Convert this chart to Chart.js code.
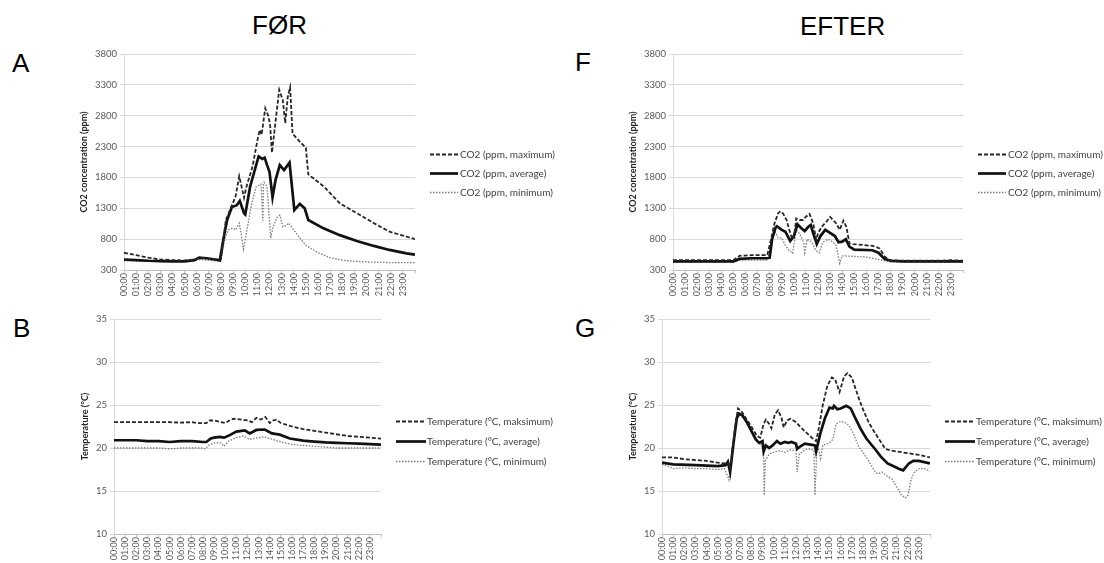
<!DOCTYPE html>
<html>
<head>
<meta charset="utf-8">
<script src="https://cdn.jsdelivr.net/npm/chart.js@4.4.1/dist/chart.umd.min.js"></script>
<style>
  html, body { margin:0; padding:0; background:#fff; }
  body { width:1104px; height:563px; position:relative; overflow:hidden; }
  canvas { position:absolute; }
  .big { position:absolute; font-family:'Liberation Sans', Arial, sans-serif; font-size:26px; line-height:26px; color:#000; white-space:nowrap; }
</style>
</head>
<body>
<div class="big" style="left:200px;width:159px;text-align:center;top:12px;">FØR</div>
<div class="big" style="left:800px;top:13px;">EFTER</div>
<div class="big" style="left:12px;top:50px;">A</div>
<div class="big" style="left:575px;top:49px;">F</div>
<div class="big" style="left:13px;top:315px;">B</div>
<div class="big" style="left:575px;top:315px;">G</div>

<canvas id="cA" width="565" height="330" style="left:0px;top:0px;"></canvas>
<canvas id="cF" width="554" height="330" style="left:550px;top:0px;"></canvas>
<canvas id="cB" width="560" height="273" style="left:0px;top:290px;"></canvas>
<canvas id="cG" width="554" height="273" style="left:550px;top:290px;"></canvas>

<script>
// ---------- tick labels ----------
const hourLabels = ['00:00','01:00','02:00','03:00','04:00','05:00','06:00','07:00','08:00','09:00','10:00','11:00',
                    '12:00','13:00','14:00','15:00','16:00','17:00','18:00','19:00','20:00','21:00','22:00','23:00'];
const co2Ticks  = [300, 800, 1300, 1800, 2300, 2800, 3300, 3800];
const tempTicks = [10, 15, 20, 25, 30, 35];

// ---------- series labels ----------
const co2Labels  = ['CO2 (ppm, maximum)', 'CO2 (ppm, average)', 'CO2 (ppm, minimum)'];
const tempLabels = ['Temperature (°C, maksimum)', 'Temperature (°C, average)', 'Temperature (°C, minimum)'];

// ---------- A: CO2 before (time in hours, value in ppm) ----------
const aMaxT = [0,1,2,3,4,5,5.8,6.2,6.8,7.5,8.0,8.2,8.4,8.8,9.2,9.5,9.7,9.9,10.1,10.6,11.0,11.2,11.35,11.65,11.9,12.05,12.2,12.45,12.8,13.1,13.3,13.5,13.7,13.9,14.4,15.0,15.2,16.5,17.8,19.2,20.6,21.9,24];
const aMaxV = [580,540,500,470,460,455,470,500,490,470,480,800,1110,1300,1490,1820,1650,1470,1650,1975,2400,2570,2490,2920,2800,2650,2200,2620,3220,3050,2680,3100,3260,2510,2400,2280,1850,1650,1380,1220,1060,920,800];
const aAvgT = [0,1,2,3,4,5,5.8,6.2,6.8,7.5,7.9,8.2,8.5,8.9,9.3,9.55,9.9,10.0,10.4,11.1,11.4,11.6,11.8,12.0,12.25,12.5,12.85,13.2,13.65,14.05,14.5,14.9,15.2,16.45,17.8,19.2,20.6,21.9,23.3,24];
const aAvgV = [470,460,450,445,440,440,460,500,490,470,455,800,1110,1320,1350,1420,1220,1200,1650,2140,2100,2120,2000,1890,1480,1760,2000,1920,2040,1270,1370,1300,1110,975,865,770,690,625,570,550];
const aMinT = [0,2,4,5.8,6.3,6.8,7.5,8.0,8.3,8.6,9.0,9.2,9.5,9.65,9.85,10.1,10.5,10.9,11.3,11.45,11.5,11.55,11.8,12.1,12.3,12.6,12.85,13.1,13.4,13.6,14.0,14.5,15.0,16.0,17.0,18.0,19.0,20.0,22.0,24];
const aMinV = [450,440,440,450,470,460,450,450,800,950,980,950,1060,900,640,900,1350,1650,1690,1100,1700,1720,1650,820,1000,1150,1190,1000,1020,1060,950,820,700,580,500,460,440,430,420,420];

// ---------- F: CO2 after ----------
const fMaxT = [0,2,4,5.0,5.5,6.5,7.8,8.1,8.4,8.7,8.9,9.1,9.4,9.55,9.8,10.0,10.2,10.5,10.75,11.0,11.3,11.6,11.85,12.0,12.3,12.7,13.0,13.25,13.5,13.8,14.1,14.35,14.6,14.9,16.55,17.1,17.5,17.9,19,20,21,22,23,24];
const fMaxV = [460,460,460,460,530,540,540,786,1056,1218,1250,1218,1110,1000,840,800,1137,1110,1110,1164,1210,1056,790,894,1000,1083,1160,1110,1056,950,1100,1000,730,720,690,650,520,460,450,450,450,450,460,450];
const fAvgT = [0,2,4,5.0,5.5,6.5,7.8,8.0,8.2,8.5,8.6,9.0,9.3,9.7,10.0,10.3,10.6,10.9,11.2,11.4,11.6,11.9,12.2,12.6,13.0,13.4,13.7,14.0,14.3,14.6,15.0,16.5,17.0,17.5,18.0,19,20,21,22,23,24];
const fAvgV = [440,440,440,440,480,490,490,500,800,990,1010,950,920,770,850,1040,980,930,1000,1030,900,720,850,950,900,850,750,760,800,680,630,620,580,480,450,440,440,440,440,440,440];
const fMinT = [0,2,4,5.0,5.5,6.5,7.8,8.1,8.4,8.7,9.0,9.3,9.6,9.9,10.2,10.5,10.8,10.9,11.1,11.5,11.8,12.1,12.4,12.8,13.2,13.5,13.7,13.8,14.0,15,16,17,17.5,18,19,20,21,22,23,24];
const fMinV = [430,430,430,430,460,460,460,700,940,820,820,700,620,570,950,880,750,580,800,750,620,580,750,800,760,700,500,410,530,520,510,470,450,430,430,430,430,430,430,430];

// ---------- B: temperature before (°C) ----------
const bMaxT = [0,1,2,3,4,5,6,7,7.5,8.0,8.3,8.6,9.0,9.6,10.0,10.5,10.8,11.5,12.0,12.4,12.8,13.2,13.6,14.0,14.3,14.6,15,16,17,18,19,20,21,22,23,24];
const bMaxV = [23.0,23.0,23.0,23.0,23.0,23.0,22.95,23.0,22.9,22.9,22.9,23.2,23.2,23.0,22.9,23.3,23.4,23.3,23.2,23.0,23.5,23.3,23.6,22.9,23.2,23.3,22.9,22.5,22.2,22.0,21.8,21.6,21.4,21.3,21.2,21.1];
const bAvgT = [0,1,2,3,4,5,6,7,8,8.3,8.7,9,9.5,9.9,10.4,11.0,11.75,12.2,12.8,13.55,14.2,14.9,15.8,17,18,19,20,21,22,23,24];
const bAvgV = [20.9,20.9,20.9,20.8,20.8,20.7,20.8,20.8,20.7,20.7,21.1,21.2,21.3,21.2,21.5,21.9,22.05,21.7,22.1,22.15,21.7,21.55,21.1,20.85,20.75,20.65,20.6,20.55,20.5,20.45,20.4];
const bMinT = [0,2,4,5,6,7,8,8.2,8.5,9,9.6,9.9,10.3,11,11.6,12.2,12.5,13,13.5,14,14.5,15,16,17,18,19,20,24];
const bMinV = [20.0,20.0,20.0,19.9,20.0,20.0,20.0,19.9,20.3,20.6,20.6,20.2,20.8,21.2,21.4,21.0,21.1,21.2,21.3,21.1,20.9,20.7,20.4,20.3,20.2,20.1,20.0,20.0];

// ---------- G: temperature after ----------
const gMaxT = [0,1,2,3,4,5,5.6,5.9,6.1,6.5,6.8,7.1,7.5,8,8.5,8.8,9.1,9.3,9.6,9.8,10.1,10.4,10.7,10.9,11.2,11.5,12,12.5,13,13.5,13.8,14.0,14.4,14.8,15.2,15.5,15.9,16.3,16.6,17.0,17.3,17.7,18.0,18.5,19,19.5,20,20.5,21,22,23,24];
const gMaxV = [18.9,18.9,18.7,18.6,18.5,18.3,18.2,18.3,17.6,22.0,24.6,24.3,23.5,22.5,21.4,21.2,22.8,23.3,22.8,22.3,23.9,24.4,23.5,22.4,23.2,23.4,23.0,22.3,21.7,21.1,20.8,22.0,25.0,27.2,28.2,28.0,26.5,28.3,28.7,28.2,27.0,25.5,24.5,23.0,21.9,20.9,19.9,19.7,19.6,19.4,19.2,18.9];
const gAvgT = [0,1,3,5,5.7,5.9,6.1,6.4,6.7,6.9,7.2,7.6,8.0,8.4,8.7,9.0,9.1,9.3,9.6,9.9,10.3,10.6,11,11.3,11.6,12.0,12.1,12.4,12.8,13.3,13.7,13.8,14.2,14.6,15.0,15.3,15.4,15.7,16.0,16.5,16.9,17.3,17.8,18.3,19,19.6,20.2,20.7,21.2,21.6,22.1,22.5,23,24];
const gAvgV = [18.3,18.1,18.0,17.9,18.0,18.4,17.2,20.5,23.5,24.0,23.8,23.0,22.0,21.0,20.6,20.8,19.6,20.3,20.0,20.3,20.8,20.5,20.7,20.6,20.7,20.5,19.9,20.2,20.5,20.4,20.3,19.6,21.8,23.5,24.7,24.6,24.9,24.5,24.6,24.9,24.6,23.5,22.2,21.1,20.0,19.0,18.2,17.9,17.6,17.4,18.2,18.5,18.5,18.2];
const gMinT = [0,0.5,1,2,3,4,5,5.6,6.0,6.3,6.6,6.9,7.3,8,8.5,8.9,9.1,9.15,9.25,9.6,10,10.5,11,11.5,12.0,12.1,12.3,12.8,13.3,13.6,13.7,13.85,14.0,14.2,14.4,15,15.3,15.6,16.0,16.5,16.8,17.2,17.6,18.0,18.5,19,19.3,19.7,20.2,20.6,21,21.4,21.8,22.0,22.3,22.6,23,23.5,24];
const gMinV = [18.1,17.9,17.6,17.7,17.6,17.6,17.5,17.6,16.3,19.5,23.0,23.8,23.5,22.0,20.8,20.3,19.9,14.5,18.5,19.3,19.5,19.7,19.5,19.8,19.7,17.2,19.3,19.8,19.9,19.7,14.5,19.5,20.0,18.8,20.3,20.6,21.0,22.8,23.1,22.9,22.5,21.5,20.2,19.5,18.5,17.4,17.0,17.2,16.7,16.4,15.5,14.6,14.2,14.4,16.3,17.2,17.6,17.6,17.3];

// ---------- helpers ----------
const pts = (t, v) => t.map((x, i) => ({ x: x, y: v[i] }));
const STY = [
  { borderColor:'#262626', borderWidth:1.8, borderDash:[4,2] },
  { borderColor:'#111111', borderWidth:2.7, borderDash:[] },
  { borderColor:'#7a7a7a', borderWidth:1.3, borderDash:[1.5,1.5] }
];
function makeSets(labels, series) {
  return series.map((s, i) => Object.assign({
    label: labels[i], data: pts(s[0], s[1]),
    pointRadius: 0, tension: 0, fill: false, borderCapStyle:'butt'
  }, STY[i]));
}

const lineLegend = {
  id: 'lineLegend',
  afterDraw(chart, args, o) {
    const ctx = chart.ctx, a = chart.chartArea;
    chart.data.datasets.forEach((ds, i) => {
      const y = Math.round(a.top + o.y0 + i * o.dy) + 0.5;
      const x0 = a.right + o.dx;
      ctx.save();
      ctx.strokeStyle = ds.borderColor; ctx.lineWidth = ds.borderWidth;
      ctx.setLineDash(ds.borderDash || []);
      ctx.beginPath(); ctx.moveTo(x0, y); ctx.lineTo(x0 + o.len, y); ctx.stroke();
      ctx.setLineDash([]);
      ctx.fillStyle = '#404040'; ctx.font = o.font; ctx.textBaseline = 'middle'; ctx.textAlign = 'left';
      ctx.fillText(ds.label, x0 + o.len + o.gap, y);
      ctx.restore();
    });
  }
};

function makeChart(id, sets, cfg) {
  return new Chart(document.getElementById(id), {
    type: 'line',
    data: { datasets: sets },
    plugins: [lineLegend],
    options: {
      responsive: false, animation: false, devicePixelRatio: 1,
      layout: { padding: { left: 0, top: cfg.padTop, right: cfg.padRight, bottom: cfg.padBottom } },
      plugins: {
        legend: { display: false }, tooltip: { enabled: false },
        lineLegend: cfg.legend
      },
      scales: {
        x: {
          type: 'linear', min: 0, max: 24,
          afterFit: s => { s.height = cfg.xHeight; },
          afterBuildTicks: s => { s.ticks = hourLabels.map((l, i) => ({ value: i })).concat([{ value: 24 }]); },
          ticks: {
            autoSkip: false, maxRotation: 90, minRotation: 90, padding: 0,
            font: { family: 'Lato', size: 9 }, color: '#595959',
            callback: v => (v < 24 ? hourLabels[v] : '')
          },
          grid: { drawOnChartArea: false, drawTicks: true, tickLength: 3, color: '#bfbfbf' },
          border: { color: '#bfbfbf', width: 1 }
        },
        y: {
          min: cfg.yTicks[0], max: cfg.yTicks[cfg.yTicks.length - 1],
          afterFit: s => { s.width = cfg.yWidth; },
          afterBuildTicks: s => { s.ticks = cfg.yTicks.map(v => ({ value: v })); },
          ticks: { padding: 3, font: { family: 'Lato', size: 9.5 }, color: '#595959', callback: v => String(v) },
          grid: { color: '#d9d9d9', lineWidth: 1, tickLength: 4 },
          border: { color: '#d9d9d9', width: 1 },
          title: {
            display: true, text: cfg.yTitle, color: '#262626',
            font: { family: 'Lato', size: 9, weight: 'bold' },
            padding: { top: cfg.titlePad, bottom: 0 }
          }
        }
      }
    }
  });
}

const co2Legend  = { dx: 15, len: 28, gap: 2, y0: 100, dy: 19, font: '10px Lato' };
const tempLegend = { dx: 15, len: 30, gap: 1, y0: 102, dy: 20, font: '10px Lato' };

makeChart('cA', makeSets(co2Labels, [[aMaxT, aMaxV], [aAvgT, aAvgV], [aMinT, aMinV]]), {
  padTop: 54, padRight: 150, padBottom: 15, xHeight: 45, yWidth: 124, titlePad: 78.6,
  yTicks: co2Ticks, yTitle: 'CO2 concentration (ppm)', legend: co2Legend
});
makeChart('cF', makeSets(co2Labels, [[fMaxT, fMaxV], [fAvgT, fAvgV], [fMinT, fMinV]]), {
  padTop: 54, padRight: 141, padBottom: 15, xHeight: 45, yWidth: 123, titlePad: 77.6,
  yTicks: co2Ticks, yTitle: 'CO2 concentration (ppm)', legend: co2Legend
});
makeChart('cB', makeSets(tempLabels, [[bMaxT, bMaxV], [bAvgT, bAvgV], [bMinT, bMinV]]), {
  padTop: 29, padRight: 179, padBottom: 0, xHeight: 29, yWidth: 114, titlePad: 79.6,
  yTicks: tempTicks, yTitle: 'Temperature (°C)', legend: tempLegend
});
makeChart('cG', makeSets(tempLabels, [[gMaxT, gMaxV], [gAvgT, gAvgV], [gMinT, gMinV]]), {
  padTop: 29, padRight: 174, padBottom: 0, xHeight: 29, yWidth: 112, titlePad: 77.6,
  yTicks: tempTicks, yTitle: 'Temperature (°C)', legend: tempLegend
});
</script>
</body>
</html>
